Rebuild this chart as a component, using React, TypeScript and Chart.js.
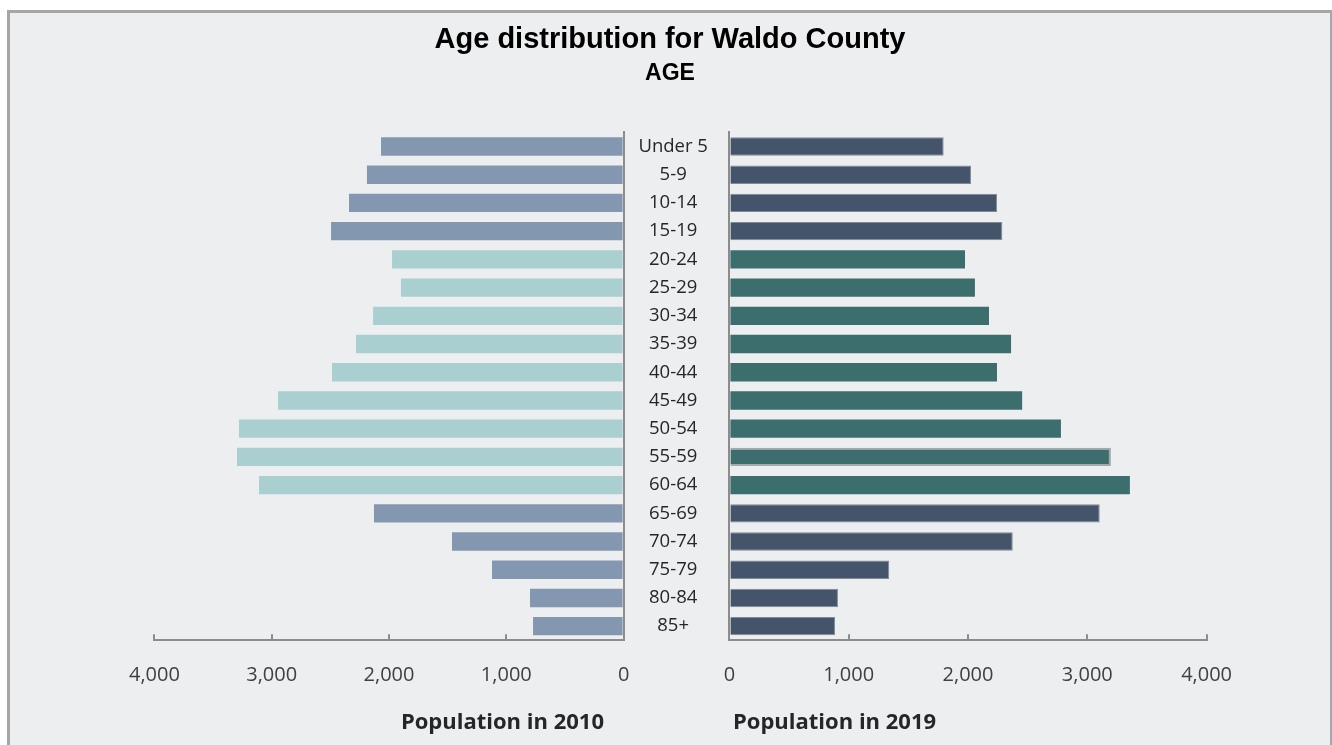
import React, { useEffect, useRef } from "react";
import { Chart, registerables } from "chart.js";

Chart.register(...registerables);

// ---------- data ----------
const ageGroups = [
  "Under 5", "5-9", "10-14", "15-19", "20-24", "25-29", "30-34", "35-39", "40-44",
  "45-49", "50-54", "55-59", "60-64", "65-69", "70-74", "75-79", "80-84", "85+",
];
const pop2010 = [2068, 2188, 2341, 2494, 1974, 1898, 2136, 2281, 2486, 2946, 3279, 3296, 3108, 2128, 1463, 1122, 798, 772];
const pop2019 = [1796, 2025, 2244, 2288, 1975, 2058, 2176, 2361, 2243, 2454, 2779, 3198, 3357, 3104, 2375, 1340, 910, 885];
const workingAgeGroups = ["20-24", "25-29", "30-34", "35-39", "40-44", "45-49", "50-54", "55-59", "60-64"];
const selectedGroup = "55-59";
const axisMin = 0;
const axisMax = 4000;
const axisStep = 1000;

const titleText = "Age distribution for Waldo County";
const subtitleText = "AGE";
const caption2010 = "Population in 2010";
const caption2019 = "Population in 2019";

// ---------- styles ----------
const C_2010_OTHER = "#8497b0";
const C_2010_WORK = "#a9cfd0";
const C_2019_OTHER = "#44546a";
const C_2019_WORK = "#3c6e6e";
const AXIS_GRAY = "#8c8c8c";
const SANS = "'Open Sans', 'Noto Sans', sans-serif";
const ARIAL = "'Liberation Sans', Arial, sans-serif";

const isWork = (g: string) => workingAgeGroups.includes(g);
const colors2010 = ageGroups.map((g) => (isWork(g) ? C_2010_WORK : C_2010_OTHER));
const colors2019 = ageGroups.map((g) => (isWork(g) ? C_2019_WORK : C_2019_OTHER));
const borderColors2019 = ageGroups.map((g) => (g === selectedGroup ? "#a3aaac" : isWork(g) ? C_2019_WORK : "#7f8a99"));
const borderWidths2019 = ageGroups.map((g) => (g === selectedGroup ? 2 : isWork(g) ? 0 : 1));

const fmt = (v: any) => Number(v).toLocaleString("en-US");

const captionPlugin = {
  id: "caption",
  afterDraw(chart: any, _args: any, opts: any) {
    if (!opts || !opts.text) return;
    const { ctx, chartArea } = chart;
    ctx.save();
    ctx.font = opts.font;
    ctx.fillStyle = opts.color;
    ctx.textBaseline = "middle";
    ctx.textAlign = opts.align;
    const x = opts.align === "right" ? chartArea.right - opts.dx : chartArea.left + opts.dx;
    ctx.fillText(opts.text, x, chartArea.bottom + opts.dy);
    ctx.restore();
  },
};

const xAxisCommon = (reverse: boolean) => ({
  type: "linear" as const,
  position: "bottom" as const,
  reverse,
  min: axisMin,
  max: axisMax,
  ticks: {
    stepSize: axisStep,
    padding: 29,
    color: "#404040",
    font: { family: SANS, size: 20 },
    callback: (v: any) => fmt(v),
    maxRotation: 0,
  },
  grid: {
    drawOnChartArea: false,
    drawTicks: true,
    tickLength: -6,
    color: AXIS_GRAY,
    lineWidth: 2,
  },
  border: { display: true, color: AXIS_GRAY, width: 2 },
  afterFit: (s: any) => {
    s.height = 90;
  },
});

export default function App() {
  const leftRef = useRef<HTMLCanvasElement>(null);
  const rightRef = useRef<HTMLCanvasElement>(null);

  useEffect(() => {
    document.body.style.overflow = "hidden";

    const left = new Chart(leftRef.current as HTMLCanvasElement, {
      type: "bar",
      data: {
        labels: ageGroups,
        datasets: [
          {
            label: "2010",
            data: pop2010,
            backgroundColor: colors2010,
            borderWidth: 0,
            barPercentage: 0.65,
            categoryPercentage: 1,
            xAxisID: "x",
            yAxisID: "y",
          },
        ],
      },
      options: {
        indexAxis: "y",
        responsive: false,
        animation: false,
        events: [],
        layout: { padding: { left: 144.4, right: 706.4, top: 119.4, bottom: 14.7 } },
        plugins: {
          legend: { display: false },
          tooltip: { enabled: false },
          caption: {
            text: caption2010,
            font: `bold 22px ${SANS}`,
            color: "#262626",
            align: "right",
            dx: 19.6,
            dy: 82.5,
          },
        } as any,
        scales: {
          x: xAxisCommon(true) as any,
          y: {
            type: "category",
            position: "right",
            ticks: { display: false },
            grid: { drawOnChartArea: false, drawTicks: false },
            border: { display: true, color: AXIS_GRAY, width: 2 },
            afterFit: (s: any) => {
              s.width = 0;
            },
          } as any,
        },
      },
      plugins: [captionPlugin as any],
    });

    const right = new Chart(rightRef.current as HTMLCanvasElement, {
      type: "bar",
      data: {
        labels: ageGroups,
        datasets: [
          {
            label: "2019",
            data: pop2019,
            backgroundColor: colors2019,
            borderColor: borderColors2019,
            borderWidth: borderWidths2019,
            barPercentage: 0.65,
            categoryPercentage: 1,
            xAxisID: "x",
            yAxisID: "y",
          },
        ],
      },
      options: {
        indexAxis: "y",
        responsive: false,
        animation: false,
        events: [],
        layout: { padding: { left: 0, right: 0, top: 0, bottom: 14.7 } },
        plugins: {
          legend: { display: false },
          tooltip: { enabled: false },
          title: {
            display: true,
            text: titleText,
            color: "#000000",
            font: { family: ARIAL, size: 29, weight: "bold", lineHeight: 1.2 },
            padding: { top: 9.4, bottom: 0 },
          },
          subtitle: {
            display: true,
            text: subtitleText,
            color: "#000000",
            font: { family: ARIAL, size: 23, weight: "bold", lineHeight: 1.2 },
            padding: { top: 3, bottom: 44.6 },
          },
          caption: {
            text: caption2019,
            font: `bold 22px ${SANS}`,
            color: "#262626",
            align: "left",
            dx: 3.6,
            dy: 82.5,
          },
        } as any,
        scales: {
          x: xAxisCommon(false) as any,
          y: {
            type: "category",
            position: "left",
            ticks: {
              padding: 21.5,
              crossAlign: "center",
              color: "#262626",
              font: { family: SANS, size: 18.5 },
            },
            grid: { drawOnChartArea: false, drawTicks: false },
            border: { display: true, color: AXIS_GRAY, width: 2 },
            afterFit: (s: any) => {
              s.width = 719.4;
            },
          } as any,
          pad: {
            type: "linear",
            position: "right",
            display: true,
            ticks: { display: false },
            grid: { display: false },
            border: { display: false },
            afterFit: (s: any) => {
              s.width = 123.4;
            },
          } as any,
        },
      },
      plugins: [captionPlugin as any],
    });

    return () => {
      left.destroy();
      right.destroy();
    };
  }, []);

  const canvasStyle: React.CSSProperties = {
    position: "absolute",
    left: 10,
    top: 13,
    width: 1320,
    height: 732,
  };

  return (
    <div>
      <div
        style={{
          position: "absolute",
          left: 7,
          top: 10,
          width: 1325,
          height: 735,
          boxSizing: "border-box",
          borderLeft: "3px solid #a6a6a6",
          borderTop: "3px solid #a6a6a6",
          borderRight: "2px solid #a6a6a6",
          background: "#edeef0",
        }}
      />
      <canvas ref={rightRef} width={1320} height={732} style={canvasStyle} />
      <canvas ref={leftRef} width={1320} height={732} style={canvasStyle} />
    </div>
  );
}
